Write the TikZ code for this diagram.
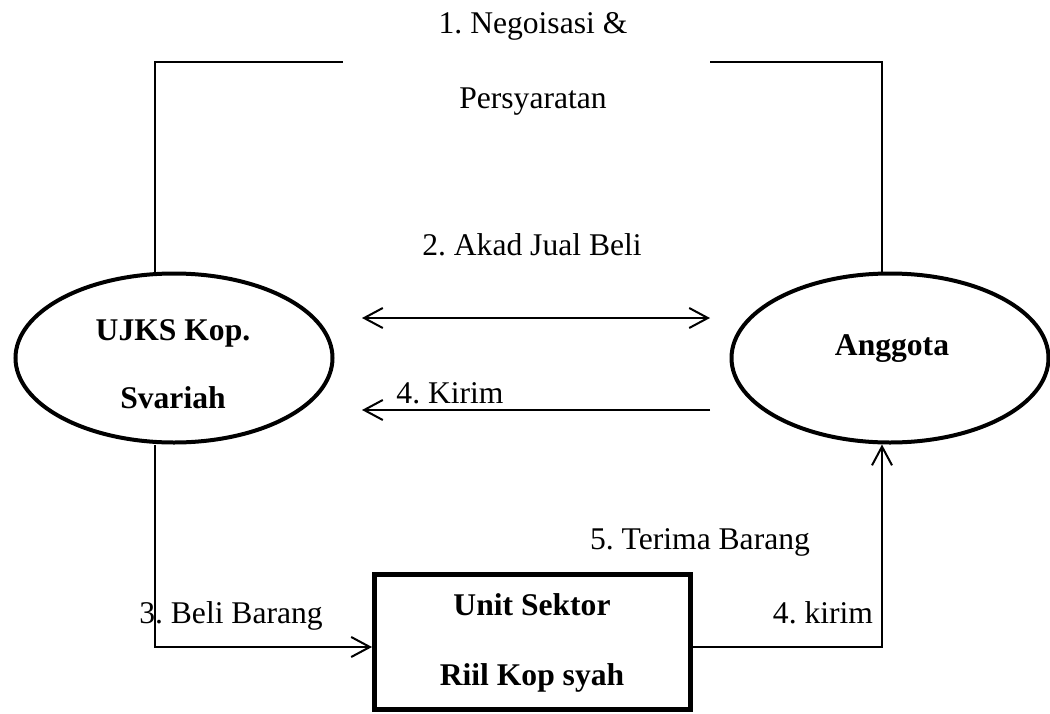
\documentclass[tikz,border=0pt]{standalone}
\usepackage{fontspec}
\setmainfont{Liberation Serif}
\frenchspacing
\usetikzlibrary{arrows.meta,shapes.geometric}
\tikzset{
  lbl/.style={font=\fontsize{23.7}{28}\selectfont, inner sep=0pt, anchor=base},
  blbl/.style={lbl, font=\fontsize{23.7}{28}\selectfont\bfseries},
  ent/.style={ellipse, draw, line width=3pt, minimum width=237.75pt, minimum height=126.75pt, inner sep=0pt},
  unitbox/.style={rectangle, draw, line width=3.75pt, minimum width=237pt, minimum height=101.25pt, inner sep=0pt},
  conn/.style={line width=1.5pt},
  tip/.style={-{Straight Barb[length=14pt,width=15pt]}},
  dtip/.style={{Straight Barb[length=14pt,width=15pt]}-{Straight Barb[length=14pt,width=15pt]}}
}
\begin{document}
\begin{tikzpicture}[x=0.75pt,y=-0.75pt]
\useasboundingbox (0,0) rectangle (1050,714);

% entities
\node[ent] (ujks) at (174,358) {};
\node[ent] (ang) at (890,358) {};
\node[unitbox] (unit) at (532.5,642) {};

% entity texts
\node[blbl] (ujksA) at (173,340) {UJKS Kop.};
\node[blbl] (ujksB) at (173,408) {Svariah};
\node[blbl] (angT) at (892,355) {Anggota};
\node[blbl] (unitA) at (532,615) {Unit Sektor};
\node[blbl] (unitB) at (532,685) {Riil Kop syah};

% coordinates
\coordinate (tlC) at (155,62);
\coordinate (tlE) at (343,62);
\coordinate (trS) at (710,62);
\coordinate (trC) at (882,62);
\coordinate (akL) at (362,318);
\coordinate (akR) at (710,318);
\coordinate (kiR) at (710,410);
\coordinate (kiL) at (362,410);
\coordinate (blC) at (155,647);
\coordinate (brC) at (882,647);

% connectors
\draw[conn] (ujks.north -| tlC) -- (tlC) -- (tlE);
\draw[conn] (trS) -- (trC) -- (trC |- ang.north);
\draw[conn,dtip] (akL) -- (akR);
\draw[conn,tip] (kiR) -- (kiL);
\draw[conn,tip] (ujks.south -| blC) -- (blC) -- (blC -| unit.west);
\draw[conn,tip] (brC -| unit.east) -- (brC) -- (brC |- ang.south);

% labels
\node[lbl] (negoA) at (533,33) {1. Negoisasi \&};
\node[lbl] (negoB) at (533,108) {Persyaratan};
\node[lbl] (akad) at (532,255) {2. Akad Jual Beli};
\node[lbl] (kirimA) at (450,403) {4. Kirim};
\node[lbl] (terima) at (700,549) {5. Terima Barang};
\node[lbl] (beli) at (231,623) {3. Beli Barang};
\node[lbl] (kirimB) at (823,623) {4. kirim};
\end{tikzpicture}
\end{document}
